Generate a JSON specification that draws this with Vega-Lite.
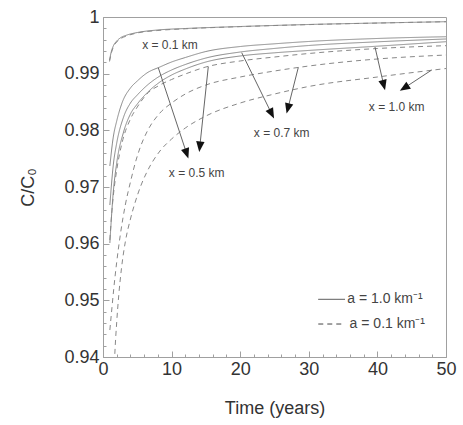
{
  "$schema": "https://vega.github.io/schema/vega-lite/v6.json",
  "width": 343,
  "height": 340,
  "autosize": "none",
  "padding": {"left": 103, "top": 17, "right": 17, "bottom": 68},
  "background": "white",
  "config": {
    "view": {"stroke": "#a0a0a0", "strokeWidth": 1},
    "font": "Liberation Sans"
  },
  "resolve": {"axis": {"x": "independent", "y": "independent"}},
  "datasets": {
    "curves": [
      {"s":"S01","a":"1.0","t":0.95,"c":0.99241},{"s":"S01","a":"1.0","t":1.2,"c":0.99382},{"s":"S01","a":"1.0","t":1.5,"c":0.99488},{"s":"S01","a":"1.0","t":2,"c":0.99576},{"s":"S01","a":"1.0","t":2.5,"c":0.99629},{"s":"S01","a":"1.0","t":3.5,"c":0.99682},{"s":"S01","a":"1.0","t":5,"c":0.99726},{"s":"S01","a":"1.0","t":8,"c":0.99771},{"s":"S01","a":"1.0","t":12,"c":0.99797},{"s":"S01","a":"1.0","t":20,"c":0.99832},{"s":"S01","a":"1.0","t":30,"c":0.99868},{"s":"S01","a":"1.0","t":40,"c":0.99894},{"s":"S01","a":"1.0","t":50,"c":0.99917},
      {"s":"D01","a":"0.1","t":0.95,"c":0.99215},{"s":"D01","a":"0.1","t":1.2,"c":0.99356},{"s":"D01","a":"0.1","t":1.5,"c":0.99467},{"s":"D01","a":"0.1","t":2,"c":0.99559},{"s":"D01","a":"0.1","t":2.5,"c":0.99612},{"s":"D01","a":"0.1","t":3.5,"c":0.99668},{"s":"D01","a":"0.1","t":5,"c":0.99718},{"s":"D01","a":"0.1","t":8,"c":0.99762},{"s":"D01","a":"0.1","t":12,"c":0.99792},{"s":"D01","a":"0.1","t":20,"c":0.9983},{"s":"D01","a":"0.1","t":30,"c":0.99866},{"s":"D01","a":"0.1","t":40,"c":0.99893},{"s":"D01","a":"0.1","t":50,"c":0.99917},
      {"s":"S05","a":"1.0","t":1,"c":0.97371},{"s":"S05","a":"1.0","t":1.5,"c":0.97882},{"s":"S05","a":"1.0","t":2,"c":0.98165},{"s":"S05","a":"1.0","t":2.77,"c":0.98482},{"s":"S05","a":"1.0","t":4,"c":0.98747},{"s":"S05","a":"1.0","t":5,"c":0.98871},{"s":"S05","a":"1.0","t":6.4,"c":0.99012},{"s":"S05","a":"1.0","t":8.3,"c":0.99118},{"s":"S05","a":"1.0","t":10,"c":0.99206},{"s":"S05","a":"1.0","t":12,"c":0.99285},{"s":"S05","a":"1.0","t":15,"c":0.99391},{"s":"S05","a":"1.0","t":20,"c":0.99479},{"s":"S05","a":"1.0","t":25,"c":0.99527},{"s":"S05","a":"1.0","t":30,"c":0.99568},{"s":"S05","a":"1.0","t":40,"c":0.99621},{"s":"S05","a":"1.0","t":50,"c":0.99652},
      {"s":"S07","a":"1.0","t":1,"c":0.96682},{"s":"S07","a":"1.0","t":1.5,"c":0.97388},{"s":"S07","a":"1.0","t":2,"c":0.97776},{"s":"S07","a":"1.0","t":3,"c":0.98235},{"s":"S07","a":"1.0","t":4,"c":0.98482},{"s":"S07","a":"1.0","t":5,"c":0.98624},{"s":"S07","a":"1.0","t":6.4,"c":0.98791},{"s":"S07","a":"1.0","t":8.3,"c":0.98959},{"s":"S07","a":"1.0","t":10,"c":0.99065},{"s":"S07","a":"1.0","t":12,"c":0.99162},{"s":"S07","a":"1.0","t":15,"c":0.99276},{"s":"S07","a":"1.0","t":20,"c":0.99382},{"s":"S07","a":"1.0","t":25,"c":0.99445},{"s":"S07","a":"1.0","t":30,"c":0.99497},{"s":"S07","a":"1.0","t":40,"c":0.99562},{"s":"S07","a":"1.0","t":50,"c":0.99612},
      {"s":"S10","a":"1.0","t":1,"c":0.96012},{"s":"S10","a":"1.0","t":1.5,"c":0.96912},{"s":"S10","a":"1.0","t":2,"c":0.97424},{"s":"S10","a":"1.0","t":3,"c":0.97971},{"s":"S10","a":"1.0","t":4,"c":0.98288},{"s":"S10","a":"1.0","t":5,"c":0.98465},{"s":"S10","a":"1.0","t":6.4,"c":0.98659},{"s":"S10","a":"1.0","t":8.3,"c":0.98853},{"s":"S10","a":"1.0","t":10,"c":0.98976},{"s":"S10","a":"1.0","t":12,"c":0.99082},{"s":"S10","a":"1.0","t":15,"c":0.99206},{"s":"S10","a":"1.0","t":20,"c":0.99312},{"s":"S10","a":"1.0","t":25,"c":0.99368},{"s":"S10","a":"1.0","t":30,"c":0.9941},{"s":"S10","a":"1.0","t":40,"c":0.99485},{"s":"S10","a":"1.0","t":50,"c":0.99564},
      {"s":"D05","a":"0.1","t":1,"c":0.96065},{"s":"D05","a":"0.1","t":1.25,"c":0.96506},{"s":"D05","a":"0.1","t":1.5,"c":0.96841},{"s":"D05","a":"0.1","t":2,"c":0.973},{"s":"D05","a":"0.1","t":2.77,"c":0.97776},{"s":"D05","a":"0.1","t":4,"c":0.982},{"s":"D05","a":"0.1","t":5,"c":0.98412},{"s":"D05","a":"0.1","t":6.4,"c":0.98641},{"s":"D05","a":"0.1","t":8.3,"c":0.988},{"s":"D05","a":"0.1","t":10,"c":0.98897},{"s":"D05","a":"0.1","t":12,"c":0.98994},{"s":"D05","a":"0.1","t":15,"c":0.99118},{"s":"D05","a":"0.1","t":20,"c":0.99224},{"s":"D05","a":"0.1","t":25,"c":0.99294},{"s":"D05","a":"0.1","t":30,"c":0.99356},{"s":"D05","a":"0.1","t":40,"c":0.99444},{"s":"D05","a":"0.1","t":50,"c":0.99494},
      {"s":"D07","a":"0.1","t":1,"c":0.94476},{"s":"D07","a":"0.1","t":1.3,"c":0.94865},{"s":"D07","a":"0.1","t":1.55,"c":0.95182},{"s":"D07","a":"0.1","t":2,"c":0.95676},{"s":"D07","a":"0.1","t":2.5,"c":0.96135},{"s":"D07","a":"0.1","t":3.25,"c":0.96682},{"s":"D07","a":"0.1","t":4,"c":0.97088},{"s":"D07","a":"0.1","t":4.7,"c":0.97424},{"s":"D07","a":"0.1","t":5.5,"c":0.97724},{"s":"D07","a":"0.1","t":6.4,"c":0.97971},{"s":"D07","a":"0.1","t":8.3,"c":0.98306},{"s":"D07","a":"0.1","t":10,"c":0.98482},{"s":"D07","a":"0.1","t":12,"c":0.98641},{"s":"D07","a":"0.1","t":15,"c":0.988},{"s":"D07","a":"0.1","t":20,"c":0.98941},{"s":"D07","a":"0.1","t":25,"c":0.99047},{"s":"D07","a":"0.1","t":30,"c":0.99135},{"s":"D07","a":"0.1","t":40,"c":0.99259},{"s":"D07","a":"0.1","t":50,"c":0.99329},
      {"s":"D10","a":"0.1","t":1.5,"c":0.93418},{"s":"D10","a":"0.1","t":1.7,"c":0.94},{"s":"D10","a":"0.1","t":2,"c":0.94618},{"s":"D10","a":"0.1","t":2.3,"c":0.95094},{"s":"D10","a":"0.1","t":2.7,"c":0.95571},{"s":"D10","a":"0.1","t":3.25,"c":0.96029},{"s":"D10","a":"0.1","t":4,"c":0.96435},{"s":"D10","a":"0.1","t":4.7,"c":0.96735},{"s":"D10","a":"0.1","t":5.5,"c":0.97018},{"s":"D10","a":"0.1","t":6.4,"c":0.97265},{"s":"D10","a":"0.1","t":8.3,"c":0.97635},{"s":"D10","a":"0.1","t":10,"c":0.97847},{"s":"D10","a":"0.1","t":12,"c":0.98041},{"s":"D10","a":"0.1","t":15,"c":0.98253},{"s":"D10","a":"0.1","t":20,"c":0.98482},{"s":"D10","a":"0.1","t":25,"c":0.98641},{"s":"D10","a":"0.1","t":30,"c":0.98774},{"s":"D10","a":"0.1","t":40,"c":0.98941},{"s":"D10","a":"0.1","t":50,"c":0.99091}
    ],
    "arrows": [
      {"t1":8.06,"c1":0.99105,"t2":12.2,"c2":0.97589,"heading":161.6},
      {"t1":15.35,"c1":0.99125,"t2":14.11,"c2":0.97711,"heading":186.2},
      {"t1":20.22,"c1":0.9937,"t2":24.59,"c2":0.98292,"heading":153},
      {"t1":28.47,"c1":0.9911,"t2":26.95,"c2":0.98385,"heading":194.5},
      {"t1":39.65,"c1":0.9947,"t2":40.93,"c2":0.98796,"heading":166},
      {"t1":47.92,"c1":0.99065,"t2":43.91,"c2":0.98747,"heading":236.9}
    ],
    "labels": [
      {"t":9.77,"c":0.99506,"label":"x = 0.1 km"},
      {"t":13.66,"c":0.97242,"label":"x = 0.5 km"},
      {"t":26.05,"c":0.97947,"label":"x = 0.7 km"},
      {"t":42.81,"c":0.98417,"label":"x = 1.0 km"}
    ],
    "legendLines": [
      {"t1":31.38,"t2":35.28,"c":0.95018,"a":"1.0"},
      {"t1":31.38,"t2":34.9,"c":0.94582,"a":"0.1"}
    ],
    "legendText": [
      {"t":35.6,"c":0.95018,"label":"a = 1.0 km⁻¹"},
      {"t":35.95,"c":0.94582,"label":"a = 0.1 km⁻¹"}
    ]
  },
  "layer": [
    {
      "data": {"name": "curves"},
      "mark": {"type": "line", "clip": true, "strokeWidth": 1, "color": "#888888", "interpolate": "monotone"},
      "encoding": {
        "x": {
          "field": "t", "type": "quantitative",
          "scale": {"domain": [0, 50], "nice": false, "zero": false},
          "axis": {
            "orient": "bottom",
            "title": "Time (years)",
            "titleFont": "Liberation Sans", "titleFontSize": 18, "titleFontWeight": "normal", "titleColor": "#333", "titlePadding": 21,
            "values": [0, 10, 20, 30, 40, 50],
            "labelOverlap": false, "labelBound": false, "labelFlush": false,
            "labelFont": "Liberation Sans", "labelFontSize": 18, "labelColor": "#333", "labelPadding": 9,
            "tickSize": -6,
            "tickColor": "#a0a0a0", "domainColor": "#a0a0a0", "grid": false
          }
        },
        "y": {
          "field": "c", "type": "quantitative",
          "scale": {"domain": [0.94, 1], "nice": false, "zero": false},
          "axis": {
            "orient": "left",
            "title": "C/C₀",
            "titleFont": "Liberation Sans", "titleFontSize": 18, "titleFontWeight": "normal", "titleColor": "#333", "titlePadding": 26,
            "values": [0.94, 0.95, 0.96, 0.97, 0.98, 0.99, 1],
            "format": "~g",
            "labelOverlap": false, "labelBound": false, "labelFlush": false,
            "labelFont": "Liberation Sans", "labelFontSize": 18, "labelColor": "#333", "labelPadding": 10,
            "tickSize": -6,
            "tickColor": "#a0a0a0", "domainColor": "#a0a0a0", "grid": false
          }
        },
        "detail": {"field": "s"},
        "strokeDash": {
          "field": "a", "type": "nominal",
          "scale": {"domain": ["1.0", "0.1"], "range": [[1, 0], [5, 4]]},
          "legend": null
        }
      }
    },
    {
      "data": {"name": "arrows"},
      "mark": {"type": "rule", "color": "#666", "strokeWidth": 1},
      "encoding": {
        "x": {
          "field": "t1", "type": "quantitative",
          "axis": {
            "orient": "bottom", "title": null, "labels": false, "domain": false, "grid": false,
            "values": [2,4,6,8,12,14,16,18,22,24,26,28,32,34,36,38,42,44,46,48],
            "tickSize": -3, "tickColor": "#a0a0a0"
          }
        },
        "y": {
          "field": "c1", "type": "quantitative",
          "axis": {
            "orient": "left", "title": null, "labels": false, "domain": false, "grid": false,
            "values": [0.942,0.944,0.946,0.948,0.952,0.954,0.956,0.958,0.962,0.964,0.966,0.968,0.972,0.974,0.976,0.978,0.982,0.984,0.986,0.988,0.992,0.994,0.996,0.998],
            "tickSize": -3, "tickColor": "#a0a0a0"
          }
        },
        "x2": {"field": "t2"},
        "y2": {"field": "c2"}
      }
    },
    {
      "data": {"name": "arrows"},
      "mark": {"type": "point", "shape": "M0,-1L0.8,1L-0.8,1Z", "filled": true, "color": "#111", "opacity": 1, "size": 110},
      "encoding": {
        "x": {"field": "t2", "type": "quantitative", "axis": null},
        "y": {"field": "c2", "type": "quantitative", "axis": null},
        "angle": {"field": "heading", "type": "quantitative", "scale": null}
      }
    },
    {
      "data": {"name": "labels"},
      "mark": {"type": "text", "font": "Liberation Sans", "fontSize": 12, "color": "#444", "align": "center", "baseline": "middle"},
      "encoding": {
        "x": {"field": "t", "type": "quantitative", "axis": null},
        "y": {"field": "c", "type": "quantitative", "axis": null},
        "text": {"field": "label"}
      }
    },
    {
      "data": {"name": "legendLines"},
      "mark": {"type": "rule", "color": "#444", "strokeWidth": 1},
      "encoding": {
        "x": {"field": "t1", "type": "quantitative", "axis": null},
        "x2": {"field": "t2"},
        "y": {"field": "c", "type": "quantitative", "axis": null},
        "strokeDash": {"field": "a", "type": "nominal", "legend": null}
      }
    },
    {
      "data": {"name": "legendText"},
      "mark": {"type": "text", "font": "Liberation Sans", "fontSize": 14, "color": "#444", "align": "left", "baseline": "middle"},
      "encoding": {
        "x": {"field": "t", "type": "quantitative", "axis": null},
        "y": {"field": "c", "type": "quantitative", "axis": null},
        "text": {"field": "label"}
      }
    }
  ]
}
